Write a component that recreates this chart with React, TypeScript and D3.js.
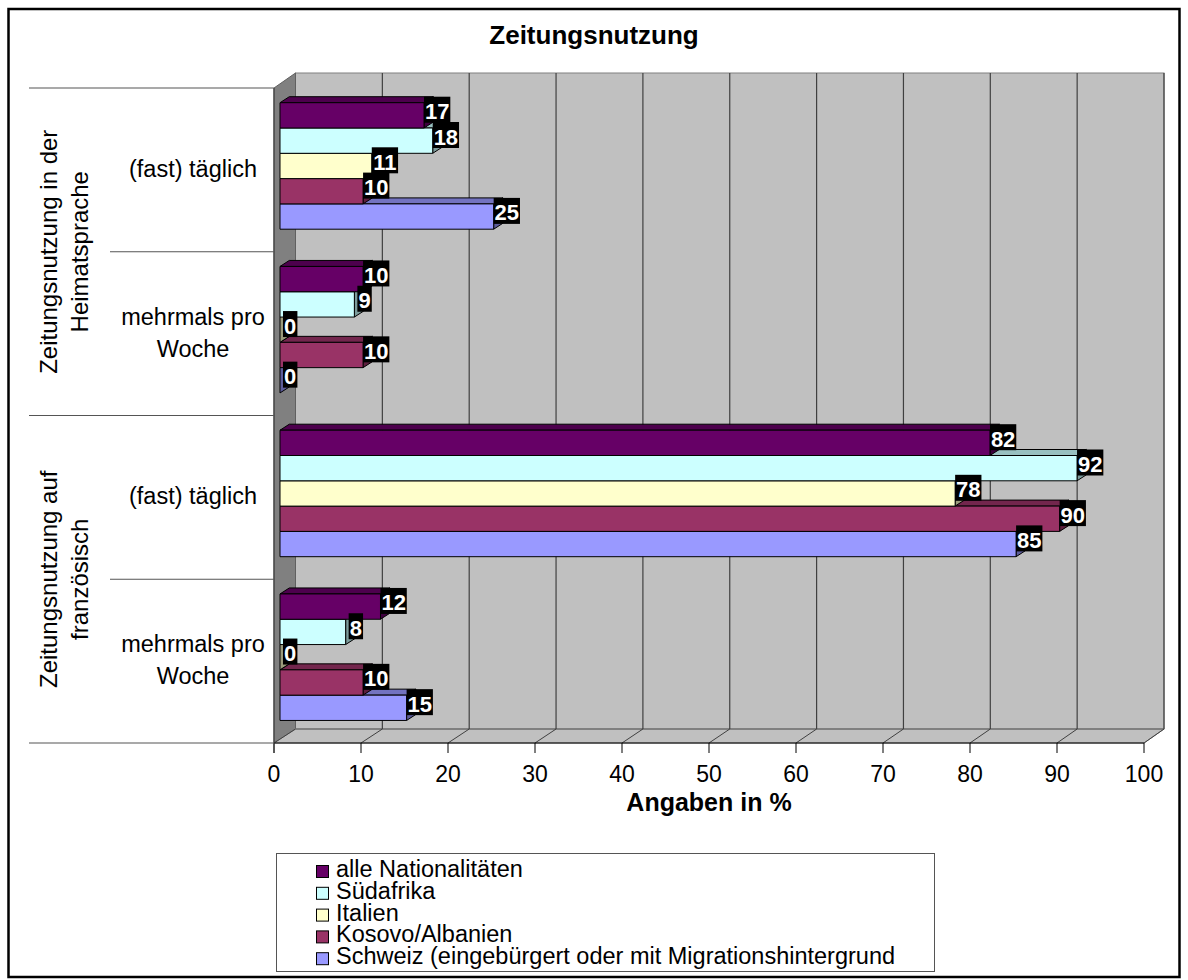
import React from "react";
import * as d3 from "d3";

// Category axis: inner labels and their outer groups
const categories = ["(fast) täglich", "mehrmals pro Woche", "(fast) täglich", "mehrmals pro Woche"];
const categoryKeys = ["heimat-taeglich", "heimat-woche", "franz-taeglich", "franz-woche"];
const groups = [
  ["Zeitungsnutzung in der", "Heimatsprache"],
  ["Zeitungsnutzung auf", "französisch"],
];

// Series (top to bottom inside each category)
const seriesNames = [
  "alle Nationalitäten",
  "Südafrika",
  "Italien",
  "Kosovo/Albanien",
  "Schweiz (eingebürgert oder mit Migrationshintergrund",
];
const seriesColors = ["#660066", "#CCFFFF", "#FFFFCC", "#993366", "#9999FF"];

// Values in %, one entry per category
const alleNationalitaeten = [17, 10, 82, 12];
const suedafrika = [18, 9, 92, 8];
const italien = [11, 0, 78, 0];
const kosovoAlbanien = [10, 10, 90, 10];
const schweiz = [25, 0, 85, 15];
const seriesValues = [alleNationalitaeten, suedafrika, italien, kosovoAlbanien, schweiz];

const xTicks = [0, 10, 20, 30, 40, 50, 60, 70, 80, 90, 100];

const FONT = "'Liberation Sans', Arial, Helvetica, sans-serif";

export default function App() {
  const W = 1188;
  const H = 980;

  // Oblique 3D frame: front plane and back plane of the plot box
  const frontTop = 88;
  const frontBottom = 743;
  const backTop = 73;
  const backBottom = 729;
  const xFront = d3.scaleLinear().domain([0, 100]).range([274, 1144]);
  const xBack = d3.scaleLinear().domain([0, 100]).range([295.5, 1164]);
  // value scale at the depth where the bars stand
  const xBar = d3.scaleLinear().domain([0, 100]).range([276, 1146.7]);
  const barWallX = 280;
  const BDX = 9.3;
  const BDY = -6;

  const yCat = d3.scaleBand<string>().domain(categoryKeys).range([frontTop, frontBottom]).padding(0);
  const ySer = d3.scaleBand<string>().domain(seriesNames).range([14.7, 141.2]).padding(0);

  const shade = (c: string, k: number) => d3.color(c)!.darker(k).formatHex();

  const pts = (p: [number, number][]) => p.map((q) => q.join(",")).join(" ");

  const bars: JSX.Element[] = [];
  const labels: JSX.Element[] = [];

  categoryKeys.forEach((ck, ci) => {
    const bandTop = yCat(ck)!;
    // draw bottom series first so upper bars cover the lower bars' top faces
    for (let si = seriesNames.length - 1; si >= 0; si--) {
      const v = seriesValues[si][ci];
      const color = seriesColors[si];
      const y0 = bandTop + ySer(seriesNames[si])!;
      const h = ySer.bandwidth();
      const xs = barWallX;
      const xe = Math.max(xBar(v), barWallX);
      bars.push(
        <g key={`b-${ci}-${si}`} stroke="#000" strokeWidth={1} strokeLinejoin="round">
          <polygon
            points={pts([[xs, y0], [xs + BDX, y0 + BDY], [xe + BDX, y0 + BDY], [xe, y0]])}
            fill={shade(color, 0.8)}
          />
          <polygon
            points={pts([[xe, y0], [xe + BDX, y0 + BDY], [xe + BDX, y0 + h + BDY], [xe, y0 + h]])}
            fill={shade(color, 1.4)}
          />
          <rect x={xs} y={y0} width={xe - xs} height={h} fill={color} />
        </g>
      );
    }
    seriesNames.forEach((sn, si) => {
      const v = seriesValues[si][ci];
      const y0 = bandTop + ySer(sn)!;
      const xe = Math.max(xBar(v), barWallX);
      const txt = String(v);
      const bw = txt.length * 11.9 + 2.5;
      const bx = xe + (txt.length === 1 ? 3 : 0);
      const by = y0 - 6;
      labels.push(
        <g key={`l-${ci}-${si}`}>
          <rect x={bx} y={by} width={bw} height={26} fill="#000" />
          <text
            x={bx + bw / 2}
            y={by + 22.5}
            textAnchor="middle"
            fill="#fff"
            fontFamily={FONT}
            fontWeight="bold"
            fontSize={22}
          >
            {txt}
          </text>
        </g>
      );
    });
  });

  const groupCenters = [0, 1].map((g) => (yCat(categoryKeys[g * 2])! + yCat(categoryKeys[g * 2 + 1])! + yCat.bandwidth()) / 2);

  return (
    <svg
      width={W}
      height={H}
      viewBox={`0 0 ${W} ${H}`}
      style={{ position: "absolute", left: 0, top: 0, background: "#fff" }}
    >
      {/* chart border */}
      <rect x={8.5} y={9} width={1171} height={968} fill="#fff" stroke="#000" strokeWidth={2.5} />

      {/* title */}
      <text x={594} y={43.5} textAnchor="middle" fontFamily={FONT} fontWeight="bold" fontSize={26}>
        Zeitungsnutzung
      </text>

      {/* back wall */}
      <rect
        x={xBack(0)}
        y={backTop}
        width={xBack(100) - xBack(0)}
        height={backBottom - backTop}
        fill="#C0C0C0"
        stroke="#808080"
        strokeWidth={1}
      />
      {/* side wall */}
      <polygon
        points={pts([[xFront(0), frontTop], [xBack(0), backTop], [xBack(0), backBottom], [xFront(0), frontBottom]])}
        fill="#808080"
        stroke="#606060"
        strokeWidth={1}
      />
      {/* floor */}
      <polygon
        points={pts([[xFront(0), frontBottom], [xBack(0), backBottom], [xBack(100), backBottom], [xFront(100), frontBottom]])}
        fill="#C0C0C0"
        stroke="#808080"
        strokeWidth={1}
      />
      <line x1={xBack(0)} x2={xBack(100)} y1={backBottom} y2={backBottom} stroke="#808080" strokeWidth={2} />

      {/* gridlines on back wall and floor */}
      {xTicks.map((t) => (
        <g key={`g-${t}`}>
          {t > 0 && (
            <line x1={xBack(t)} x2={xBack(t)} y1={backTop} y2={backBottom} stroke="#404040" strokeWidth={1.2} />
          )}
          <line x1={xFront(t)} y1={frontBottom} x2={xBack(t)} y2={backBottom} stroke="#404040" strokeWidth={1} />
        </g>
      ))}

      {/* bars */}
      {bars}
      {labels}

      {/* value axis */}
      <line x1={xFront(0)} x2={xFront(100)} y1={frontBottom} y2={frontBottom} stroke="#000" strokeWidth={1.2} />
      {xTicks.map((t) => (
        <g key={`t-${t}`}>
          <line x1={xFront(t)} x2={xFront(t)} y1={frontBottom} y2={frontBottom + 10} stroke="#000" strokeWidth={1} />
          <text x={xFront(t)} y={782} textAnchor="middle" fontFamily={FONT} fontSize={23}>
            {t}
          </text>
        </g>
      ))}
      <text x={709} y={810.5} textAnchor="middle" fontFamily={FONT} fontWeight="bold" fontSize={25}>
        Angaben in %
      </text>

      {/* category axis */}
      <line x1={xFront(0)} x2={xFront(0)} y1={frontTop} y2={frontBottom + 10} stroke="#404040" strokeWidth={1.2} />
      {[0, 2, 4].map((i) => {
        const y = i < 4 ? yCat(categoryKeys[i])! : frontBottom;
        return <line key={`og-${i}`} x1={29} x2={xFront(0)} y1={y} y2={y} stroke="#555" strokeWidth={1.2} />;
      })}
      {[1, 3].map((i) => {
        const y = yCat(categoryKeys[i])!;
        return <line key={`ig-${i}`} x1={110} x2={xFront(0)} y1={y} y2={y} stroke="#555" strokeWidth={1.2} />;
      })}
      {categories.map((c, i) => {
        const cy = yCat(categoryKeys[i])! + yCat.bandwidth() / 2;
        const words = c === "mehrmals pro Woche" ? ["mehrmals pro", "Woche"] : [c];
        return (
          <text key={`c-${i}`} textAnchor="middle" fontFamily={FONT} fontSize={23.5}>
            {words.map((w, wi) => (
              <tspan key={wi} x={193} y={cy + 7 + (wi - (words.length - 1) / 2) * 32}>
                {w}
              </tspan>
            ))}
          </text>
        );
      })}
      {groups.map((lines, gi) =>
        lines.map((ln, li) => (
          <text
            key={`grp-${gi}-${li}`}
            transform={`translate(${57 + li * 31},${groupCenters[gi]}) rotate(-90)`}
            textAnchor="middle"
            fontFamily={FONT}
            fontSize={24}
          >
            {ln}
          </text>
        ))
      )}

      {/* legend */}
      <rect x={276.5} y={853.5} width={658} height={118} fill="#fff" stroke="#555" strokeWidth={1} />
      {seriesNames.map((s, i) => (
        <g key={`lg-${i}`}>
          <rect x={316.5} y={865.5 + i * 21.8} width={12} height={12} fill={seriesColors[i]} stroke="#000" strokeWidth={1} />
          <text x={336} y={877 + i * 21.8} fontFamily={FONT} fontSize={23.5}>
            {s}
          </text>
        </g>
      ))}
    </svg>
  );
}
